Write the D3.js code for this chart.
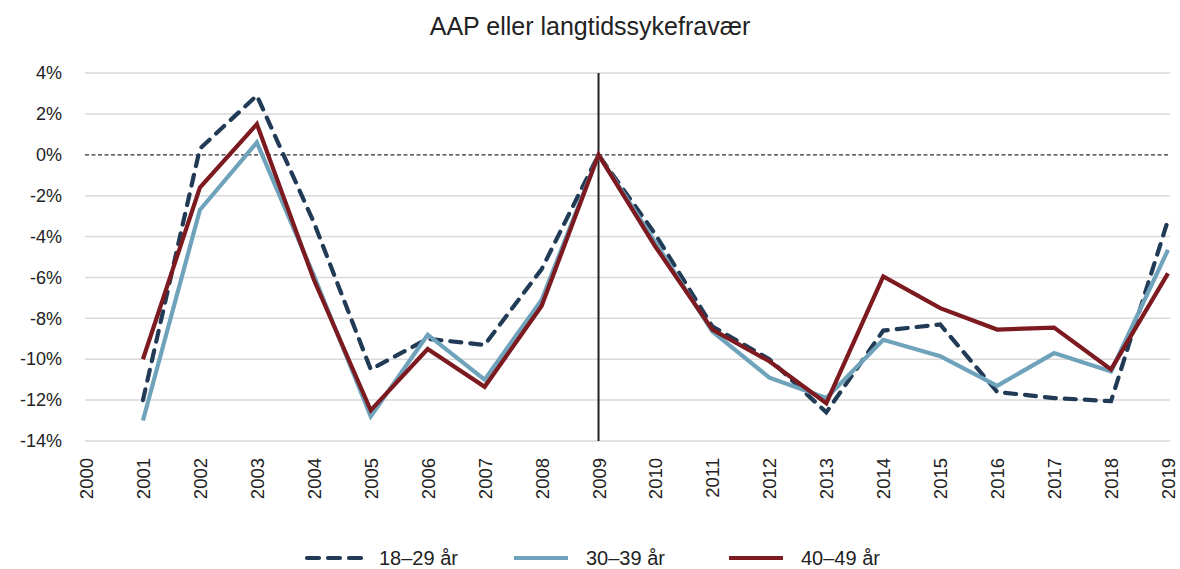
<!DOCTYPE html>
<html>
<head>
<meta charset="utf-8">
<script src="https://cdn.jsdelivr.net/npm/d3@7"></script>
<style>
  body { margin: 0; background: #fff; }
  svg { display: block; font-family: "Liberation Sans", Arial, sans-serif; }
</style>
</head>
<body>
<svg id="chart" width="1180" height="569"></svg>
<script>
const title = "AAP eller langtidssykefravær";
const years = ["2000","2001","2002","2003","2004","2005","2006","2007","2008","2009",
               "2010","2011","2012","2013","2014","2015","2016","2017","2018","2019"];
const dataYears = years.slice(1);
const s18_29 = [-12.0, 0.3, 2.9, -3.3, -10.5, -9.0, -9.3, -5.6, 0, -3.9, -8.4, -10.0, -12.6, -8.6, -8.3, -11.6, -11.9, -12.05, -3.2];
const s30_39 = [-13.0, -2.7, 0.6, -5.9, -12.8, -8.8, -11.0, -7.1, 0, -4.3, -8.65, -10.9, -11.9, -9.05, -9.85, -11.3, -9.7, -10.6, -4.65];
const s40_49 = [-10.0, -1.6, 1.5, -6.1, -12.5, -9.5, -11.35, -7.4, 0, -4.5, -8.55, -10.1, -12.15, -5.95, -7.5, -8.55, -8.45, -10.5, -5.8];
const seriesNames = ["18–29 år", "30–39 år", "40–49 år"];
const yTicks = [4, 2, 0, -2, -4, -6, -8, -10, -12, -14];
const markerYear = "2009";

const svg = d3.select("#chart");
const x = d3.scalePoint().domain(years).range([86, 1168]);
const y = d3.scaleLinear().domain([-14, 4]).range([441, 73]);
const left = 85, right = 1170;

// title
svg.append("text").attr("x", 590).attr("y", 35).attr("text-anchor", "middle")
  .attr("font-size", 25).attr("fill", "#222").text(title);

// gridlines
svg.append("g").selectAll("line").data(yTicks.filter(d => d !== 0)).join("line")
  .attr("x1", left).attr("x2", right)
  .attr("y1", d => y(d)).attr("y2", d => y(d))
  .attr("stroke", "#d9d9d9").attr("stroke-width", 1.5);

// zero line dashed
svg.append("line").attr("x1", left).attr("x2", right)
  .attr("y1", y(0)).attr("y2", y(0))
  .attr("stroke", "#333").attr("stroke-width", 1.3).attr("stroke-dasharray", "4,2.5");

// y axis labels
const yAxis = d3.axisLeft(y).tickValues(yTicks).tickFormat(d => d + "%").tickSize(0).tickPadding(0);
const gy = svg.append("g").attr("transform", "translate(62,0)").call(yAxis);
gy.select(".domain").remove();
gy.selectAll("text").attr("font-size", 18).attr("fill", "#222")
  .attr("font-family", "'Liberation Sans', Arial, sans-serif");

// x axis labels
const xAxis = d3.axisBottom(x).tickSize(0).tickPadding(0);
const gx = svg.append("g").attr("transform", "translate(0,458)").call(xAxis);
gx.select(".domain").remove();
gx.selectAll("text")
  .attr("font-size", 18.5).attr("fill", "#222")
  .attr("font-family", "'Liberation Sans', Arial, sans-serif")
  .attr("transform", "rotate(-90)")
  .attr("text-anchor", "end")
  .attr("x", 0).attr("y", 0).attr("dy", "0.35em");

// vertical marker line
svg.append("line").attr("x1", x(markerYear)).attr("x2", x(markerYear))
  .attr("y1", y(4)).attr("y2", y(-14))
  .attr("stroke", "#222").attr("stroke-width", 2);

const line = d3.line().x((d, i) => x(dataYears[i])).y(d => y(d));
const styles = [
  { data: s18_29, color: "#213b56", dash: "11,9" },
  { data: s30_39, color: "#6fa3bc", dash: null },
  { data: s40_49, color: "#7c1a20", dash: null }
];
styles.forEach(s => {
  const p = svg.append("path").datum(s.data).attr("d", line)
    .attr("fill", "none").attr("stroke", s.color).attr("stroke-width", 4.2)
    .attr("stroke-linejoin", "miter");
  if (s.dash) p.attr("stroke-dasharray", s.dash).attr("stroke-linecap", "round");
});

// legend
const legendX = [307, 514, 729];
const lg = svg.append("g");
styles.forEach((s, i) => {
  const l = lg.append("line").attr("x1", legendX[i]).attr("x2", legendX[i] + 54)
    .attr("y1", 558).attr("y2", 558)
    .attr("stroke", s.color).attr("stroke-width", 4.2);
  if (s.dash) l.attr("stroke-dasharray", "12,9").attr("stroke-linecap", "round");
  lg.append("text").attr("x", legendX[i] + 72).attr("y", 558).attr("dy", "0.35em")
    .attr("font-size", 20).attr("fill", "#222").text(seriesNames[i]);
});
</script>
</body>
</html>
